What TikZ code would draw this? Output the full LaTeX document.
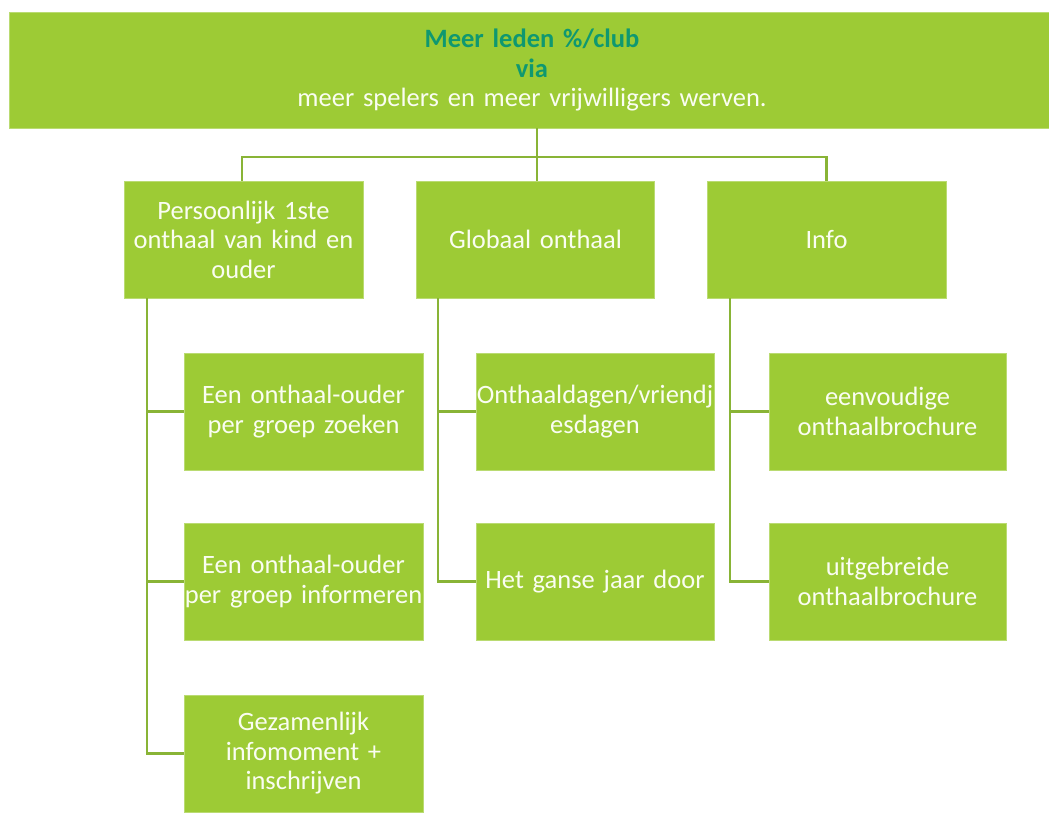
\documentclass[tikz,border=0pt]{standalone}
\usepackage{fontspec}
\setmainfont[WordSpace={0.8,0,0}]{Carlito}
\definecolor{boxgreen}{HTML}{9DCB35}
\definecolor{linegreen}{HTML}{89B436}
\definecolor{titleteal}{HTML}{0F9870}
\definecolor{txtwhite}{HTML}{FAFDF2}
\begin{document}
\begin{tikzpicture}[x=1pt,y=-1pt,
  box/.style={fill=boxgreen,draw=boxgreen!70!white,line width=0.8pt,inner sep=2pt,align=center,
    text=txtwhite,font=\fontsize{26.5}{29.5}\selectfont,minimum height=117pt},
  conn/.style={draw=linegreen,line width=2.2pt}]
\useasboundingbox (0,0) rectangle (1049,812);
\fill[white] (0,0) rectangle (1049,812);
% top
\node[box,minimum width=1045pt,minimum height=116pt,text width=1000pt] (top) at (532,70)
  {{\bfseries\color{titleteal}Meer leden \%/club}\\{\bfseries\color{titleteal}via}\\meer spelers en meer vrijwilligers werven.};
% level 1
\node[box,minimum width=239pt,text width=239pt,inner sep=0pt] (A) at (243.5,239.5) {Persoonlijk 1ste\\onthaal van kind en\\ouder};
\node[box,minimum width=238pt,text width=238pt,inner sep=0pt] (B) at (535.5,239.5) {Globaal onthaal};
\node[box,minimum width=239pt,text width=239pt,inner sep=0pt] (C) at (826.5,239.5) {Info};
% level 2 left
\node[box,minimum width=239pt,text width=239pt,inner sep=0pt] (a1) at (303.5,411.5) {Een onthaal-ouder\\per groep zoeken};
\node[box,minimum width=239pt,text width=239pt,inner sep=0pt] (a2) at (303.5,581.5) {Een onthaal-ouder\\per groep informeren};
\node[box,minimum width=239pt,text width=239pt,inner sep=0pt] (a3) at (303.5,753.5) {Gezamenlijk\\infomoment +\\inschrijven};
% level 2 middle
\node[box,minimum width=238pt,text width=238pt,inner sep=0pt] (b1) at (595,411.5) {Onthaaldagen/vriendj\\esdagen};
\node[box,minimum width=238pt,text width=238pt,inner sep=0pt] (b2) at (595,581.5) {Het ganse jaar door};
% level 2 right
\node[box,minimum width=237pt,text width=237pt,inner sep=0pt] (c1) at (887.5,411.5) {eenvoudige\\onthaalbrochure};
\node[box,minimum width=237pt,text width=237pt,inner sep=0pt] (c2) at (887.5,581.5) {uitgebreide\\onthaalbrochure};
% connectors level 0-1
\coordinate (j) at (537,157);
\draw[conn] (top.south -| j) -- (B.north -| j);
\draw[conn] (A.north -| 242,0) |- (j) -| (C.north);
% left column
\coordinate (vA) at ([xshift=-96.5pt]A.south);
\draw[conn] (vA) |- (a3.west);
\draw[conn] (a1.west) -- (a1.west -| vA);
\draw[conn] (a2.west) -- (a2.west -| vA);
% middle column
\coordinate (vB) at ([xshift=-97.5pt]B.south);
\draw[conn] (vB) |- (b2.west);
\draw[conn] (b1.west) -- (b1.west -| vB);
% right column
\coordinate (vC) at ([xshift=-96.5pt]C.south);
\draw[conn] (vC) |- (c2.west);
\draw[conn] (c1.west) -- (c1.west -| vC);
\end{tikzpicture}
\end{document}
